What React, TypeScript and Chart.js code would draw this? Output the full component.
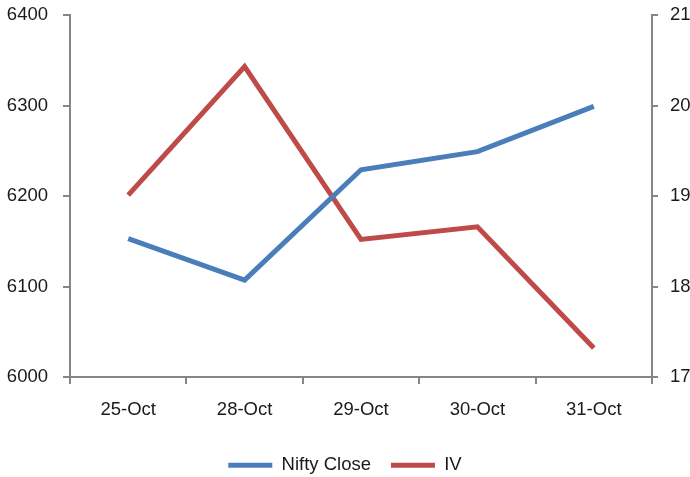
import React, { useEffect, useRef } from "react";
import { Chart, registerables } from "chart.js";

Chart.register(...registerables);

const categories = ["25-Oct", "28-Oct", "29-Oct", "30-Oct", "31-Oct"];
const niftyClose = [6153, 6107, 6229, 6249, 6299];
const ivValues = [19.01, 20.43, 18.52, 18.66, 17.32];
const leftTicks = [6000, 6100, 6200, 6300, 6400];
const rightTicks = [17, 18, 19, 20, 21];

const AXIS_COLOR = "#868686";
const TEXT_COLOR = "#1a1a1a";
const FONT = { family: "'Liberation Sans', Arial, sans-serif", size: 18.5 };

export default function App() {
  const ref = useRef<HTMLCanvasElement | null>(null);

  useEffect(() => {
    if (!ref.current) return;
    const chart = new Chart(ref.current, {
      type: "line",
      data: {
        labels: categories,
        datasets: [
          {
            label: "Nifty Close",
            data: niftyClose,
            borderColor: "#4A7EBB",
            backgroundColor: "#4A7EBB",
            borderWidth: 5,
            pointRadius: 0,
            tension: 0,
            yAxisID: "y",
          },
          {
            label: "IV",
            data: ivValues,
            borderColor: "#BE4B48",
            backgroundColor: "#BE4B48",
            borderWidth: 5,
            pointRadius: 0,
            tension: 0,
            yAxisID: "y1",
          },
        ],
      },
      options: {
        responsive: false,
        animation: false,
        layout: { padding: { top: 15, left: 0, right: 0, bottom: 0 } },
        plugins: {
          tooltip: { enabled: false },
          legend: {
            position: "bottom",
            maxHeight: 41,
            labels: {
              usePointStyle: true,
              pointStyle: "line",
              pointStyleWidth: 44,
              padding: 20,
              color: TEXT_COLOR,
              font: FONT,
            },
          },
        },
        scales: {
          x: {
            offset: true,
            grid: {
              offset: true,
              drawOnChartArea: false,
              drawTicks: true,
              tickLength: 7,
              color: AXIS_COLOR,
              lineWidth: 2,
            },
            border: { display: true, color: AXIS_COLOR, width: 2 },
            ticks: { color: TEXT_COLOR, font: FONT, padding: 15, maxRotation: 0 },
            afterFit: (s: any) => {
              s.height = 59;
            },
          },
          y: {
            position: "left",
            min: 6000,
            max: 6400,
            afterBuildTicks: (s: any) => {
              s.ticks = leftTicks.map((v) => ({ value: v }));
            },
            grid: {
              drawOnChartArea: false,
              drawTicks: true,
              tickLength: 7,
              color: AXIS_COLOR,
              lineWidth: 2,
            },
            border: { display: true, color: AXIS_COLOR, width: 2 },
            ticks: {
              color: TEXT_COLOR,
              font: FONT,
              padding: 15,
              callback: (v: any) => String(v),
            },
            afterFit: (s: any) => {
              s.width = 70;
              s.paddingTop = 0;
              s.paddingBottom = 0;
            },
          },
          y1: {
            position: "right",
            min: 17,
            max: 21,
            afterBuildTicks: (s: any) => {
              s.ticks = rightTicks.map((v) => ({ value: v }));
            },
            grid: {
              drawOnChartArea: false,
              drawTicks: true,
              tickLength: 6,
              color: AXIS_COLOR,
              lineWidth: 2,
            },
            border: { display: true, color: AXIS_COLOR, width: 2 },
            ticks: {
              color: TEXT_COLOR,
              font: FONT,
              padding: 12,
              callback: (v: any) => String(v),
            },
            afterFit: (s: any) => {
              s.width = 38;
              s.paddingTop = 0;
              s.paddingBottom = 0;
            },
          },
        },
      },
    });
    return () => chart.destroy();
  }, []);

  return (
    <div style={{ position: "absolute", left: 0, top: 0, width: 690, height: 477, background: "#fff" }}>
      <canvas ref={ref} width={690} height={477} style={{ display: "block" }} />
    </div>
  );
}
